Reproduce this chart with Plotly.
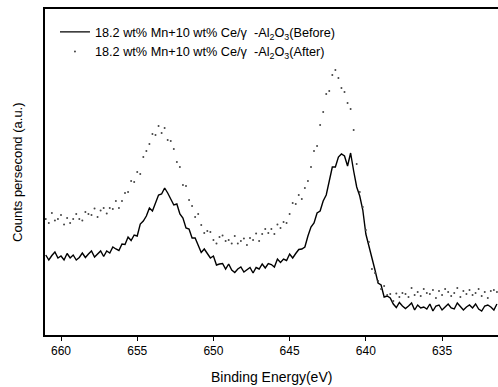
import plotly.graph_objects as go

# Binding energy grid (eV), 0.2 eV step from 661.0 eV
e_start = 661.0
e_step = 0.2

before = [80, 75, 79.5, 83, 77, 79, 75, 81.5, 77, 80, 75, 77.5, 82, 77.5, 81, 84, 78, 81.5, 84, 78.5,
          84, 82, 88, 86, 84.5, 91, 90.5, 98, 94.5, 100, 99, 111, 114, 119, 127, 124, 133, 140, 141, 147,
          142, 136, 130, 131, 121, 117, 107, 106, 97, 97, 90, 82.5, 86, 82, 77, 79, 70, 71, 71.5, 66,
          71, 65, 62.5, 66, 68, 63, 65, 67.5, 62, 67.5, 66, 71, 67, 71.5, 70.5, 68, 76, 72.5, 76, 74.5,
          81, 77, 81.5, 85.5, 86, 88, 99, 108, 112, 122, 124, 134, 140, 154, 168, 168, 178, 181, 179, 169,
          182, 164, 148, 139, 125, 101, 89, 80, 65, 52, 50, 38, 39, 37, 31, 27.5, 32.5, 29, 26.5, 29,
          32, 25, 30, 27, 28, 26, 31, 24, 29, 30, 25, 28, 31, 27, 26, 32, 29, 25, 28, 30,
          27, 31, 26, 24, 29, 30, 28, 25, 31]

after = [116, 112, 122, 114.5, 116, 120, 110.5, 117, 112, 116, 121, 116, 114.5, 123, 121, 120, 126.5, 118, 124.5, 127,
         121.5, 127, 126, 134, 127, 134, 142, 143, 154, 153, 163, 161, 178, 184, 191, 201, 200, 209, 202, 207,
         195, 194, 186, 173, 168, 150, 149, 135, 129, 118, 121, 110, 102, 104, 103, 95, 91.5, 98, 99.5, 94,
         95, 91.5, 99, 91.5, 94, 96.5, 90, 97, 95, 101.5, 94, 101, 106, 102, 106, 101, 110.5, 107, 113, 112,
         121, 132, 131, 140, 136, 147, 154, 168, 184, 189, 210, 223, 241, 244, 260, 265, 257, 247, 243, 232,
         226, 205, 171, 143, 128, 105, 93, 66, 62, 54, 46, 49, 40, 41, 34, 41.5, 38, 42, 41, 38,
         47, 40, 43, 39, 46, 42, 41, 45, 37, 44, 40, 46, 43, 39, 42, 47, 38, 44, 41, 45,
         40, 42, 46, 39, 43, 37, 44, 45, 43]

energy_before = [round(e_start - e_step * i, 1) for i in range(len(before))]
energy_after = [round(e_start - e_step * i, 1) for i in range(len(after))]

x_ticks = [660, 655, 650, 645, 640, 635]
name_before = "18.2 wt% Mn+10 wt% Ce/\u03b3  -Al<sub>2</sub>O<sub>3</sub>(Before)"
name_after = "18.2 wt% Mn+10 wt% Ce/\u03b3  -Al<sub>2</sub>O<sub>3</sub>(After)"

FONT = "Arial, Liberation Sans, Helvetica, sans-serif"

fig = go.Figure()
fig.add_trace(go.Scatter(
    x=energy_before, y=before, mode="lines", name=name_before,
    line=dict(color="black", width=1.4),
))
fig.add_trace(go.Scatter(
    x=energy_after, y=after, mode="markers", name=name_after,
    marker=dict(color="#444444", size=2),
))

fig.update_layout(
    width=498, height=387,
    margin=dict(l=45, r=0, t=9, b=52),
    paper_bgcolor="white", plot_bgcolor="white",
    font=dict(family=FONT, color="black", size=12),
    showlegend=True,
    legend=dict(
        x=0.022, y=0.975, xanchor="left", yanchor="top",
        bgcolor="rgba(0,0,0,0)", borderwidth=0,
        font=dict(family=FONT, size=12.7, color="black"),
        tracegroupgap=0,
    ),
    xaxis=dict(
        range=[661.05, 631.33], tickvals=x_ticks, ticktext=[str(t) for t in x_ticks],
        ticks="outside", ticklen=4, tickcolor="black", tickwidth=1,
        showline=True, linecolor="black", linewidth=1.5, mirror=True,
        showgrid=False, zeroline=False,
        tickfont=dict(size=12, family=FONT),
    ),
    yaxis=dict(
        range=[0, 326], showticklabels=False, ticks="",
        showline=True, linecolor="black", linewidth=1.5, mirror=False,
        showgrid=False, zeroline=False,
    ),
    annotations=[
        dict(text="Binding Energy(eV)", xref="paper", yref="paper", x=0.5, y=-0.128,
             xanchor="center", yanchor="middle", showarrow=False,
             font=dict(size=14, family=FONT)),
        dict(text="Counts persecond (a.u.)", xref="paper", yref="paper", x=-0.062, y=0.5,
             xanchor="center", yanchor="middle", textangle=-90, showarrow=False,
             font=dict(size=13, family=FONT)),
    ],
)

fig.write_html("out.html")
